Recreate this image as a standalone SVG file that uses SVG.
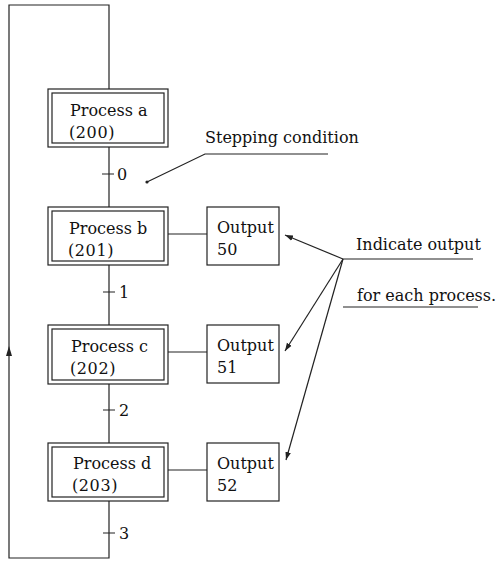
<svg xmlns="http://www.w3.org/2000/svg" width="499" height="561" viewBox="0 0 499 561">
  <defs>
    <style>
      .ln { stroke: #222; stroke-width: 1.2; fill: none; }
      .box { stroke: #222; stroke-width: 1.2; fill: #fff; }
      .t { font-family: "DejaVu Serif", "Liberation Serif", serif; font-size: 16px; fill: #111; }
      .num { letter-spacing: 0.6px; }
    </style>
    <marker id="ah" viewBox="0 0 10 10" refX="10" refY="5" markerWidth="8" markerHeight="8" markerUnits="userSpaceOnUse" orient="auto">
      <path d="M0,1.5 L10,5 L0,8.5 Z" fill="#222"/>
    </marker>
  </defs>
  <rect width="499" height="561" fill="#fff"/>

  <!-- connectors -->
  <g id="connectors">
    <!-- return loop -->
    <path class="ln" d="M109,147 V207 M109,265 V325 M109,384 V443 M109,501 V558 H9 V5 H109 V89"/>
    <path d="M9,346 L6,356 L12,356 Z" fill="#222"/>
    <!-- step transitions -->
    <path class="ln" d="M102,174 H114 M103,292 H115 M103,410 H115 M103,533 H115"/>
    <!-- process to output links -->
    <path class="ln" d="M168,234 H207 M168,352 H207 M168,470 H207"/>
    <!-- stepping condition leader -->
    <circle cx="147" cy="182" r="1.6" fill="#222"/>
    <path class="ln" d="M147,182 L205,154 H328"/>
    <!-- output annotation leaders -->
    <path class="ln" d="M343,259 H473 M343,307 H478"/>
    <path class="ln" d="M343,259 L285,235" marker-end="url(#ah)"/>
    <path class="ln" d="M343,259 L285,351" marker-end="url(#ah)"/>
    <path class="ln" d="M343,259 L286,460" marker-end="url(#ah)"/>
  </g>

  <!-- step numbers -->
  <g id="step-labels">
    <text class="t" x="117" y="180">0</text>
    <text class="t" x="119" y="298">1</text>
    <text class="t" x="119" y="416">2</text>
    <text class="t" x="119" y="539">3</text>
  </g>

  <!-- process steps -->
  <g id="process-a">
    <rect class="box" x="48" y="89" width="120" height="58"/>
    <rect class="box" x="52" y="93" width="112" height="50"/>
    <text class="t" x="70" y="116">Process a</text>
    <text class="t num" x="69" y="138">(200)</text>
  </g>
  <g id="process-b">
    <rect class="box" x="48" y="207" width="120" height="58"/>
    <rect class="box" x="52" y="211" width="112" height="50"/>
    <text class="t" x="69" y="234">Process b</text>
    <text class="t num" x="68" y="256">(201)</text>
  </g>
  <g id="process-c">
    <rect class="box" x="48" y="325" width="120" height="59"/>
    <rect class="box" x="52" y="329" width="112" height="51"/>
    <text class="t" x="71" y="352">Process c</text>
    <text class="t num" x="70" y="374">(202)</text>
  </g>
  <g id="process-d">
    <rect class="box" x="48" y="443" width="120" height="58"/>
    <rect class="box" x="52" y="447" width="112" height="50"/>
    <text class="t" x="73" y="469">Process d</text>
    <text class="t num" x="72" y="491">(203)</text>
  </g>

  <!-- outputs -->
  <g id="output-50">
    <rect class="box" x="207" y="207" width="72" height="58"/>
    <text class="t" x="217" y="233">Output</text>
    <text class="t" x="217" y="255">50</text>
  </g>
  <g id="output-51">
    <rect class="box" x="207" y="325" width="72" height="58"/>
    <text class="t" x="217" y="351">Output</text>
    <text class="t" x="217" y="373">51</text>
  </g>
  <g id="output-52">
    <rect class="box" x="207" y="443" width="72" height="58"/>
    <text class="t" x="217" y="469">Output</text>
    <text class="t" x="217" y="491">52</text>
  </g>

  <!-- annotations -->
  <g id="note-stepping">
    <text class="t" x="205" y="143">Stepping condition</text>
  </g>
  <g id="note-output">
    <text class="t" x="356" y="250">Indicate output</text>
    <text class="t" x="357" y="301">for each process.</text>
  </g>
</svg>
